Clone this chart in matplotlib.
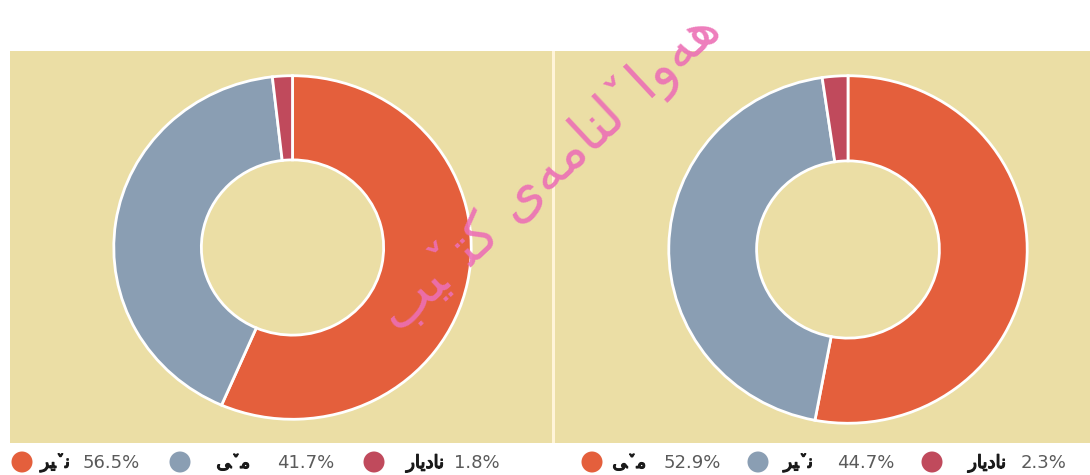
import matplotlib.pyplot as plt
import matplotlib.patheffects as pe
from matplotlib.patches import Rectangle, Circle

# data
left_labels = ["نێر", "مێ", "نادیار"]
left_values = [56.5, 41.7, 1.8]
right_labels = ["مێ", "نێر", "نادیار"]
right_values = [52.9, 44.7, 2.3]
colors = ["#E45F3C", "#8A9EB3", "#C04A5C"]
watermark = "هەواڵنامەی کتێب"

# matplotlib has no arabic shaping, so pick presentation forms by hand
# (isolated, final, initial, medial)
V = "\u065A"
FORMS = {
    "ا": ("\uFE8D", "\uFE8E", None, None),
    "ب": ("\uFE8F", "\uFE90", "\uFE91", "\uFE92"),
    "ت": ("\uFE95", "\uFE96", "\uFE97", "\uFE98"),
    "د": ("\uFEA9", "\uFEAA", None, None),
    "ر": ("\uFEAD", "\uFEAE", None, None),
    "م": ("\uFEE1", "\uFEE2", "\uFEE3", "\uFEE4"),
    "ن": ("\uFEE5", "\uFEE6", "\uFEE7", "\uFEE8"),
    "ه": ("\uFEE9", "\uFEEA", "\uFEEB", "\uFEEC"),
    "ە": ("\uFEE9", "\uFEEA", None, None),
    "و": ("\uFEED", "\uFEEE", None, None),
    "ی": ("\uFEEF", "\uFEF0", "\uFEF3", "\uFEF4"),
    "ێ": ("\uFEEF" + V, "\uFEF0" + V, "\uFEF3" + V, "\uFEF4" + V),
    "ڵ": ("\uFEDD" + V, "\uFEDE" + V, "\uFEDF" + V, "\uFEE0" + V),
    "ک": ("\uFB8E", "\uFB8F", "\uFB90", "\uFB91"),
}


def shape(text):
    out = []
    for i, ch in enumerate(text):
        if ch not in FORMS:
            out.append(ch)
            continue
        prev = text[i - 1] if i > 0 else None
        nxt = text[i + 1] if i + 1 < len(text) else None
        jp = prev in FORMS and FORMS[prev][2] is not None
        jn = FORMS[ch][2] is not None and nxt in FORMS
        f = FORMS[ch]
        if jp and jn:
            out.append(f[3])
        elif jp:
            out.append(f[1])
        elif jn:
            out.append(f[2])
        else:
            out.append(f[0])
    return "".join(reversed(out))


W, H = 1090, 475
fig = plt.figure(figsize=(W / 100, H / 100), dpi=100)
bg = fig.add_axes([0, 0, 1, 1])
bg.set_xlim(0, W)
bg.set_ylim(H, 0)
bg.axis("off")

beige = "#EBDEA5"
bg.add_patch(Rectangle((10, 51), 542, 392, color=beige, lw=0))
bg.add_patch(Rectangle((555, 51), 535, 392, color=beige, lw=0))
bg.add_patch(Rectangle((551.5, 51), 3.5, 392, color="#FFF4D8", lw=0))


def donut(box, values):
    x0, y0, x1, y1 = box
    ax = fig.add_axes([x0 / W, 1 - y1 / H, (x1 - x0) / W, (y1 - y0) / H])
    ax.pie(values, colors=colors, startangle=90, counterclock=False,
           wedgeprops=dict(width=0.49, edgecolor="white", linewidth=2))
    ax.set_aspect("auto")
    ax.set_xlim(-1.01, 1.01)
    ax.set_ylim(-1.01, 1.01)
    ax.axis("off")


donut((112, 74, 473, 421), left_values)
donut((667, 74, 1029, 425), right_values)

bold = [pe.withStroke(linewidth=0.9, foreground="#1a1a1a")]


def legend(xs, labels, values):
    y = 462
    for i, (lab, val) in enumerate(zip(labels, values)):
        cx, lx, vx = xs[i]
        bg.add_patch(Circle((cx, y), 10.5, color=colors[i], lw=0))
        bg.text(lx, y + 1, shape(lab), ha="right", va="center", fontsize=13,
                color="#1a1a1a", family="DejaVu Sans", path_effects=bold)
        bg.text(vx, y + 1, f"{val}%", ha="right", va="center", fontsize=13,
                color="#5a5a5a", family="DejaVu Sans")


legend([(22, 70, 140), (180, 250, 334), (374, 444, 500)], left_labels, left_values)
legend([(592, 646, 721), (758, 813, 894), (932, 1006, 1066)], right_labels, right_values)

# watermark on top of everything
fig.text(550 / W, 1 - 172 / H, shape(watermark), rotation=43, ha="center",
         va="center", fontsize=40, color="#EC6FB5", alpha=0.9,
         family="DejaVu Sans", zorder=10)

fig.savefig("out.png", dpi=100)
